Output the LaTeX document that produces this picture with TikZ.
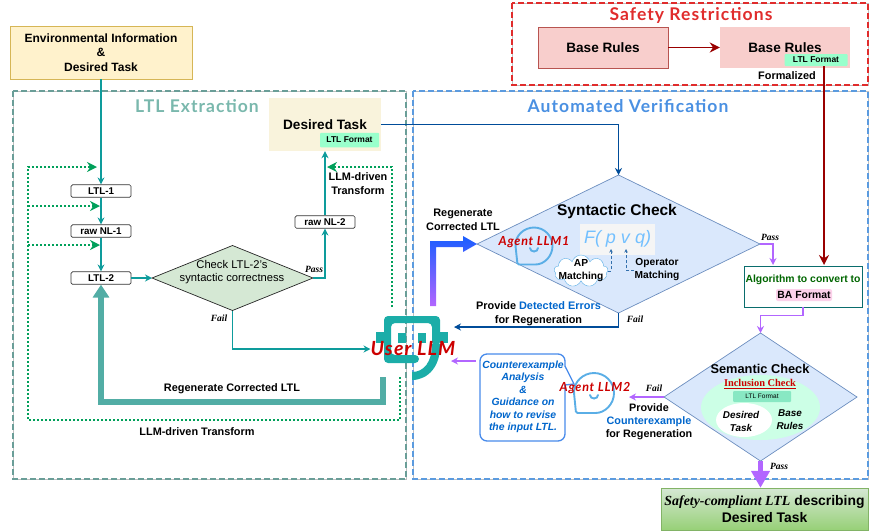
\documentclass[tikz,border=0pt]{standalone}
\usepackage{fontspec}
\usetikzlibrary{arrows.meta,calc,shapes.geometric,shapes.symbols}
\setmainfont{Liberation Sans}
\newfontfamily\handfont[LetterSpace=6]{Lato}
\newfontfamily\timesfont{Liberation Serif}
\definecolor{tealflow}{HTML}{0E9C9C}
\definecolor{tealthick}{HTML}{52ADA5}
\definecolor{tealzone}{HTML}{6A9E98}
\definecolor{tealhead}{HTML}{7AB8AD}
\definecolor{bluezone}{HTML}{5B9BDF}
\definecolor{bluehead}{HTML}{4A90E2}
\definecolor{redzone}{HTML}{E02C2C}
\definecolor{iconteal}{HTML}{1BADA8}
\definecolor{dotgreen}{HTML}{00A05A}
\definecolor{navyflow}{HTML}{004C99}
\definecolor{darkred}{HTML}{990000}
\definecolor{purpleflow}{HTML}{B266FF}
\definecolor{tagmint}{HTML}{99FFCC}
\definecolor{facecyan}{HTML}{5AAEE6}
\definecolor{textblue}{HTML}{0066CC}
\definecolor{userred}{HTML}{CC0000}
\definecolor{envfill}{HTML}{FFF2CC}
\definecolor{envline}{HTML}{D6B656}
\definecolor{taskfill}{HTML}{F9F3DC}
\definecolor{rulefill}{HTML}{F8CECC}
\definecolor{ruleline}{HTML}{B85450}
\definecolor{checkfill}{HTML}{D5E8D4}
\definecolor{bluefill}{HTML}{DAE8FC}
\definecolor{blueline}{HTML}{6C8EBF}
\definecolor{resulttop}{HTML}{D5E8D4}
\definecolor{resultbot}{HTML}{97D077}
\definecolor{resultline}{HTML}{82B366}
\def\agentface#1#2#3{%
  \draw[facecyan, line width=1.9pt, rounded corners=1.5pt]
    ($(#1,#2)+(-#3,0)$) arc (180:450:#3) -- ($(#1,#2)+(-#3+2,#3)$) -- cycle;
  \draw[facecyan, line width=1.9pt, line cap=round] ($(#1,#2)+(-4,2)$) arc (180:0:4 and 3.5);
}
\tikzset{
  zonebox/.style={line width=1.2pt, dash pattern=on 6pt off 3pt, preaction={draw=black!25, solid, line width=0.6pt}},
  headtext/.style={font=\handfont\bfseries\fontsize{17.5}{20}\selectfont, inner sep=0pt},
  bigtext/.style={font=\bfseries\fontsize{13.6}{16}\selectfont, align=center, inner sep=0pt},
  boxtext/.style={font=\bfseries\fontsize{12}{14.5}\selectfont, align=center, inner sep=0pt},
  smalltext/.style={font=\bfseries\fontsize{10.9}{14}\selectfont, align=center, inner sep=0pt},
  passfail/.style={font=\timesfont\itshape\bfseries\fontsize{9.5}{10}\selectfont, inner sep=0pt},
  agenttext/.style={font=\handfont\itshape\bfseries\fontsize{12.5}{14}\selectfont, text=userred, inner sep=0pt},
  ltlbox/.style={draw=black!80, fill=white, rounded corners=1.5pt, line width=0.7pt, minimum width=60pt, minimum height=12.5pt, inner sep=0pt, font=\bfseries\fontsize{9.8}{10}\selectfont},
  tagbox/.style={fill=tagmint, rounded corners=1pt, inner sep=0pt, font=\bfseries\fontsize{8.5}{9}\selectfont},
  checkdiamond/.style={diamond, draw, inner sep=0pt, outer sep=0pt, line width=0.7pt},
  tealarrow/.style={tealflow, line width=1.7pt, -{Stealth[length=7pt,width=7pt]}},
  dotarrow/.style={dotgreen, line width=2.2pt, dash pattern=on 2pt off 2pt, -{Stealth[length=10pt,width=10pt]}},
  navyarrow/.style={navyflow, line width=1.7pt, -{Stealth[length=7pt,width=7pt]}},
  purplearrow/.style={purpleflow, line width=1.7pt, -{Stealth[length=7pt,width=7pt]}},
  redarrow/.style={darkred, line width=1.7pt, -{Stealth[length=10pt,width=10pt]}},
  matcharrow/.style={navyflow!80, line width=0.9pt, densely dashed, -{Stealth[length=3.5pt,width=3.5pt]}},
}
\begin{document}
\begin{tikzpicture}[x=1pt, y=-1pt]
    \useasboundingbox (0,0) rectangle (869,531);
    % Zones.
    \draw[zonebox, draw=tealzone] (13,91) rectangle (406,479);
    \draw[zonebox, draw=bluezone] (413,91) rectangle (868,479);
    \draw[zonebox, draw=redzone] (512,3) rectangle (868,85);
    \node[headtext, text=tealhead] (extracttitle) at (197,106) {LTL Extraction};
    \node[headtext, text=bluehead] (verifytitle) at (628,106) {Automated Verification};
    \node[headtext, text=redzone] (safetytitle) at (691,15) {Safety Restrictions};
    % Top boxes.
    \node[boxtext, draw=envline, fill=envfill, minimum width=182pt, minimum height=53pt] (envbox) at (101,52.5) {Environmental Information\\\&\\Desired Task};
    \node[bigtext, fill=taskfill, minimum width=112pt, minimum height=53pt] (taskbox) at (325,124.5) {Desired Task};
    \node[tagbox, minimum width=59pt, minimum height=14.5pt] (tasktag) at (349.5,140) {LTL Format};
    \node[bigtext, draw=ruleline, fill=rulefill, minimum width=130pt, minimum height=41pt, line width=0.8pt] (rulesbox) at (603,47.5) {Base Rules};
    \node[bigtext, fill=rulefill, minimum width=130pt, minimum height=41pt] (formalbox) at (785,47.5) {Base Rules};
    \node[tagbox, minimum width=63pt, minimum height=12pt] (formaltag) at (816,60) {LTL Format};
    \node[smalltext] (formaltext) at (787,76) {Formalized};
    % Left column.
    \node[ltlbox] (ltlone) at (101,191) {LTL-1};
    \node[ltlbox] (rawone) at (101,231) {raw NL-1};
    \node[ltlbox] (ltltwo) at (101,278) {LTL-2};
    \node[ltlbox] (rawtwo) at (325,222) {raw NL-2};
    \node[checkdiamond, fill=checkfill, minimum width=161pt, minimum height=65pt, aspect=2.48, draw=black!85] (correctcheck) at (232.5,278) {};
    \node[smalltext, font=\fontsize{11.2}{13.5}\selectfont] (correcttext) at (232,272) {Check LTL-2's\\syntactic correctness};
    \node[passfail] (passleft) at (314,269.5) {Pass};
    \node[passfail] (failleft) at (219,318) {Fail};
    % Left column arrows.
    \draw[tealarrow] (envbox.south) -- (ltlone.north);
    \draw[tealarrow] (ltlone.south) -- (rawone.north);
    \draw[tealarrow] (rawone.south) -- (ltltwo.north);
    \draw[tealarrow] (ltltwo.east) -- (correctcheck.west);
    \draw[tealarrow] (correctcheck.east) -| (rawtwo.south);
    \draw[tealarrow] (rawtwo.north) -- (taskbox.south);
    % User LLM.
    \fill[iconteal] (376,332) rectangle (384,343);
    \fill[iconteal] (440,332) rectangle (448,343);
    \fill[iconteal, rounded corners=4pt] (384,316) -- (440,316) -- (440,346) -- (432,346) -- (432,323) -- (391,323) -- (391,355) -- (419,355) -- (419,363) -- (384,363) -- cycle;
    \fill[iconteal] (398,333) rectangle (406,343);
    \fill[iconteal] (418,333) rectangle (426,343);
    \fill[iconteal] (440,344) .. controls (441,366) and (428,380) .. (412,380) -- (412,372) .. controls (424,372) and (432,362) .. (432,344) -- cycle;
    \node[font=\handfont\itshape\bfseries\fontsize{19.5}{22}\selectfont, text=userred, inner sep=0pt] (userllm) at (413,349) {User LLM};
    \draw[tealarrow] (correctcheck.south) |- (userllm.west);
    % Regenerate and dotted paths.
    \coordinate (regenstart) at (383,377);
    \coordinate (regencorner) at (101,402);
    \draw[tealthick, line width=5.6pt, -{Triangle[length=13pt,width=16pt]}] (regenstart) |- (regencorner) -- (ltltwo.south);
    \node[smalltext] (regentext) at (232,389) {Regenerate Corrected LTL};
    \coordinate (dotstart) at (400,377);
    \coordinate (dotcorner) at (28,420);
    \coordinate (dottop) at (97,167);
    \coordinate (dotmid) at (100,206);
    \coordinate (dotlow) at (100,245);
    \coordinate (dotright) at (392,307);
    \coordinate (dottask) at (327,167);
    \draw[dotarrow] (dotstart) |- (dotcorner) |- (dottop);
    \draw[dotarrow] (dotcorner |- dotmid) -- (dotmid);
    \draw[dotarrow] (dotcorner |- dotlow) -- (dotlow);
    \draw[dotarrow] (dotright) |- (dottask);
    \node[smalltext] (dottext) at (197,432) {LLM-driven Transform};
    \node[smalltext] (dottexttwo) at (358,184) {LLM-driven\\Transform};
    % Syntactic check.
    \node[checkdiamond, fill=bluefill, draw=blueline, minimum width=283pt, minimum height=138pt, aspect=2.05] (syntaxcheck) at (618.5,244) {};
    \node[font=\bfseries\fontsize{15.5}{18}\selectfont, inner sep=0pt] (syntaxtitle) at (617,211) {Syntactic Check};
    \node[fill=black!4, minimum width=75pt, minimum height=31pt, inner sep=0pt, font=\itshape\fontsize{18}{20}\selectfont, text=blue!45!cyan!55] (formula) at (617.5,239) {F( p v q)};
    \agentface{534}{246}{18.5}
    \node[agenttext] (agentone) at (534,242) {Agent LLM1};
    \node[cloud, cloud puffs=9, aspect=1.7, draw=facecyan, fill=white, inner sep=0pt, minimum width=54pt, minimum height=32pt] (apcloud) at (581,271) {};
    \node[font=\bfseries\fontsize{10.2}{13}\selectfont, align=center, inner sep=0pt] (aptext) at (581,271) {AP\\Matching};
    \node[font=\bfseries\fontsize{10.2}{13}\selectfont, align=center, inner sep=0pt] (optext) at (657,270) {Operator\\Matching};
    \coordinate (aptip) at (611,249);
    \coordinate (optip) at (626,249);
    \draw[matcharrow] (apcloud.east) -| (aptip);
    \draw[matcharrow] (optext.west) -| (optip);
    \node[smalltext] (regenlabel) at (463,220) {Regenerate\\Corrected LTL};
    \shade[top color=blue!70!cyan!90, bottom color=purpleflow] (430,306) -- (430,241) -- (463,241) -- (463,236) -- (syntaxcheck.west) -- (463,252) -- (463,247) -- (436,247) -- (436,306) -- cycle;
    \node[smalltext] (errorlabel) at (538.5,313.5) {Provide {\color{textblue}Detected Errors}\\for Regeneration};
    \coordinate (errortip) at (454,327);
    \draw[navyarrow] (syntaxcheck.south) |- (errortip);
    \node[passfail] (failmid) at (635,319) {Fail};
    \node[passfail] (passmid) at (770,237) {Pass};
    % Flow into the right column.
    \draw[navyarrow] (taskbox.east) -| (syntaxcheck.north);
    \draw[redarrow] (formaltag.south -| 824,0) -- (824,265);
    \draw[redarrow] (rulesbox.east) -- (formalbox.west);
    % Algorithm box.
    \node[draw=tealflow!70!black, fill=white, line width=0.9pt, minimum width=118pt, minimum height=41pt] (algobox) at (803,286.5) {};
    \node[font=\bfseries\fontsize{10.4}{11}\selectfont, text=green!40!black, inner sep=0pt] (algotext) at (803,280) {Algorithm to convert to};
    \node[fill=magenta!18, rounded corners=2pt, minimum width=56pt, minimum height=12pt, inner sep=0pt, font=\bfseries\fontsize{10.4}{11}\selectfont] (formatbox) at (804,295) {BA Format};
    \coordinate (algotip) at (773,265);
    \draw[purplearrow] (syntaxcheck.east) -| (algotip);
    % Semantic check.
    \node[checkdiamond, fill=bluefill, draw=blueline, minimum width=193pt, minimum height=128pt, aspect=1.51] (semanticcheck) at (760.5,397) {};
    \node[font=\bfseries\fontsize{12.8}{15}\selectfont, inner sep=0pt] (semantictitle) at (760,369) {Semantic Check};
    \draw[purplearrow] (algobox.south) -- ++(0,8) -| (semanticcheck.north);
    \node[ellipse, fill=tagmint!50, minimum width=119pt, minimum height=65pt, inner sep=0pt] (outerellipse) at (760.5,407.5) {};
    \node[ellipse, fill=white, minimum width=56pt, minimum height=34pt, inner sep=0pt] (innerellipse) at (744,420) {};
    \node[font=\timesfont\bfseries\fontsize{10.4}{12}\selectfont, text=userred, inner sep=0pt] (inclusiontext) at (760,384) {\underline{Inclusion Check}};
    \node[tagbox, fill=tagmint!80!teal!90, minimum width=58pt, minimum height=11pt, font=\fontsize{6.5}{8}\selectfont] (semantictag) at (762,396.5) {LTL Format};
    \node[font=\bfseries\itshape\fontsize{9.9}{13}\selectfont, align=center, inner sep=0pt] (desiredtext) at (741,421) {Desired\\Task};
    \node[font=\bfseries\itshape\fontsize{9.9}{13}\selectfont, align=center, inner sep=0pt] (basetext) at (790,420) {Base\\Rules};
    % Counterexample.
    \node[draw=facecyan!80!blue, fill=white, line width=1.3pt, rounded corners=7pt, minimum width=85pt, minimum height=87pt, inner sep=0pt] (counterbox) at (522.5,397.5) {};
    \fill[white] (564,366) -- (574,384) -- (564,385) -- cycle;
    \draw[facecyan!80!blue, line width=1.3pt] (565,366) -- (574,384) -- (565,385);
    \node[font=\bfseries\itshape\fontsize{10.4}{12.5}\selectfont, text=textblue, align=center, inner sep=0pt] (countertext) at (523,397) {Counterexample\\Analysis\\\&\\Guidance on\\how to revise\\the input LTL.};
    \agentface{594}{393}{20}
    \node[agenttext] (agenttwo) at (595,388) {Agent LLM2};
    \coordinate (agenttip) at (629,397);
    \draw[purplearrow] (semanticcheck.west) -- (agenttip);
    \node[passfail] (failright) at (654,388) {Fail};
    \node[smalltext, font=\bfseries\fontsize{10.8}{13}\selectfont] (providetext) at (649,422) {Provide\\{\color{textblue}Counterexample}\\for Regeneration};
    \coordinate (usertail) at (476,361);
    \coordinate (usertip) at (451,361);
    \draw[purplearrow] (usertail) -- (usertip);
    % Result.
    \node[boxtext, draw=resultline, top color=resulttop, bottom color=resultbot, minimum width=207pt, minimum height=42pt, font=\bfseries\fontsize{13.9}{16.5}\selectfont] (resultbox) at (764.5,509) {{\timesfont\itshape Safety-compliant LTL} describing\\Desired Task};
    \draw[purpleflow, line width=5pt, -{Triangle[length=17pt,width=18pt]}] (semanticcheck.south) -- (resultbox.north -| semanticcheck.south);
    \node[passfail] (passright) at (779,466) {Pass};
\end{tikzpicture}
\end{document}
